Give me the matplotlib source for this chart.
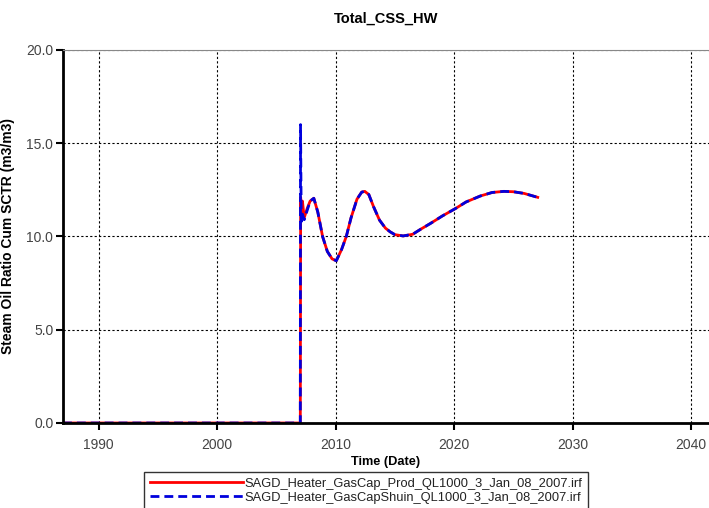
import matplotlib
matplotlib.use('Agg')
import matplotlib.pyplot as plt

plt.rcParams['font.family'] = ['Liberation Sans', 'DejaVu Sans']

# (decimal years, m3/m3)
prod_years = [1987.0, 2007.02, 2007.05, 2007.1, 2007.2, 2007.35, 2007.6, 2007.85,
              2008.16, 2008.5, 2008.9, 2009.3, 2009.7, 2010.06, 2010.5, 2010.9,
              2011.3, 2011.8, 2012.2, 2012.46, 2012.8, 2013.2, 2013.7, 2014.2,
              2014.6, 2015.0, 2015.7, 2016.5, 2017.2, 2018.0, 2019.0, 2020.14,
              2021.0, 2022.2, 2023.2, 2024.2, 2025.0, 2025.9, 2026.5, 2027.05]
prod_sor = [0.0, 0.0, 12.1, 11.3, 11.9, 11.0, 11.5, 11.9,
            12.05, 11.3, 10.0, 9.2, 8.8, 8.7, 9.3, 10.0,
            11.0, 12.0, 12.38, 12.42, 12.25, 11.6, 10.88, 10.45,
            10.25, 10.1, 10.03, 10.12, 10.4, 10.7, 11.1, 11.51,
            11.85, 12.17, 12.36, 12.42, 12.4, 12.31, 12.2, 12.1]

shuin_years = [1987.0, 2007.02, 2007.04, 2007.1, 2007.2, 2007.35, 2007.6, 2007.85,
               2008.16, 2008.5, 2008.9, 2009.3, 2009.7, 2010.06, 2010.5, 2010.9,
               2011.3, 2011.8, 2012.2, 2012.46, 2012.8, 2013.2, 2013.7, 2014.2,
               2014.6, 2015.0, 2015.7, 2016.5, 2017.2, 2018.0, 2019.0, 2020.14,
               2021.0, 2022.2, 2023.2, 2024.2, 2025.0, 2025.9, 2026.5, 2027.05]
shuin_sor = [0.0, 0.0, 16.0, 10.8, 11.2, 10.9, 11.4, 11.9,
             12.05, 11.3, 10.0, 9.2, 8.8, 8.7, 9.3, 10.0,
             11.0, 12.0, 12.38, 12.42, 12.25, 11.6, 10.88, 10.45,
             10.25, 10.1, 10.03, 10.12, 10.4, 10.7, 11.1, 11.51,
             11.85, 12.17, 12.36, 12.42, 12.4, 12.31, 12.2, 12.1]

labels = ['SAGD_Heater_GasCap_Prod_QL1000_3_Jan_08_2007.irf',
          'SAGD_Heater_GasCapShuin_QL1000_3_Jan_08_2007.irf']
xticks = [1990, 2000, 2010, 2020, 2030, 2040]
yticks = [0, 5, 10, 15, 20]

fig = plt.figure(figsize=(7.09, 5.08), dpi=100)
ax = fig.add_axes([63 / 709, 1 - 423 / 508, 1 - 63 / 709, (423 - 50) / 508])

ax.plot(prod_years, prod_sor, color='#ff0000', lw=2, label=labels[0])
ax.plot(shuin_years, shuin_sor, color='#0000dd', lw=2, ls=(0, (3.2, 1.8)), label=labels[1])

ax.set_xlim(1987.0, 2041.5)
ax.set_ylim(0, 20)
ax.set_xticks(xticks)
ax.set_yticks(yticks)
ax.set_yticklabels(['%.1f' % v for v in yticks])
ax.grid(True, color='black', ls=(0, (2, 2)), lw=0.8)

ax.tick_params(axis='both', direction='out', length=5, width=1.5, labelsize=10,
               labelcolor='#444444', colors='black')
ax.tick_params(axis='x', pad=6)
ax.tick_params(axis='y', pad=2)
for s in ['left', 'bottom']:
    ax.spines[s].set_linewidth(2)
ax.spines['top'].set_color('#888888')
ax.spines['right'].set_visible(False)

ax.set_title('Total_CSS_HW', fontsize=10.5, fontweight='bold', pad=20)
ax.set_xlabel('Time (Date)', fontsize=9.2, fontweight='bold', labelpad=3)
ax.set_ylabel('Steam Oil Ratio Cum SCTR (m3/m3)', fontsize=10, fontweight='bold', labelpad=8)

leg = fig.legend(loc='upper center', bbox_to_anchor=(366 / 709, 1 - 472 / 508), fontsize=9.25,
                 frameon=True, fancybox=False, edgecolor='black', handlelength=7.2,
                 handletextpad=0.1, borderpad=0.45, labelspacing=0.15, borderaxespad=0)
for t in leg.get_texts():
    t.set_color('#222222')

fig.savefig('out.png', dpi=100)
